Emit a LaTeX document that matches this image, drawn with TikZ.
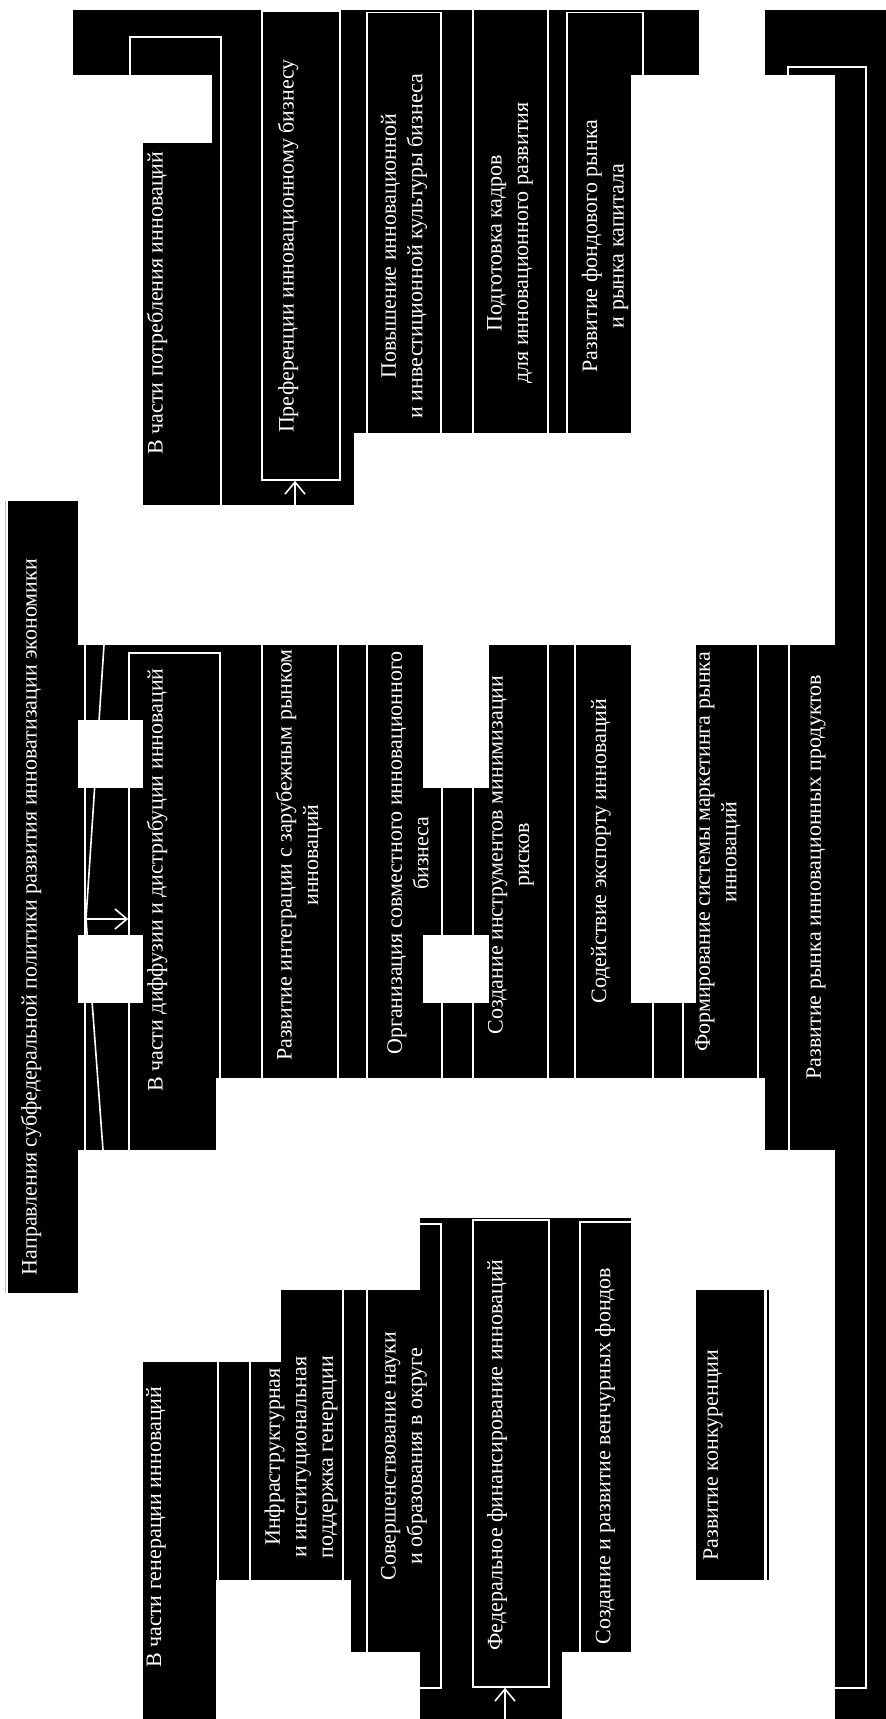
\documentclass[tikz,border=0pt]{standalone}
\usepackage{fontspec}
\setmainfont{Liberation Serif}
\usetikzlibrary{arrows.meta}
\tikzset{
  wline/.style={white, line width=1.6pt},
  outl/.style={draw=white, line width=1.6pt, inner sep=0pt},
  boxtxt/.style={text=white, rotate=90, align=center, inner sep=0pt,
    font=\fontsize{22}{26.5}\selectfont},
  barb/.style={-{Straight Barb[length=12pt,width=20pt]}, white, line width=1.6pt}
}

\begin{document}
\begin{tikzpicture}[x=1pt, y=-1pt]
\useasboundingbox (0,0) rectangle (886,1719);
\fill[white] (0,0) rectangle (886,1719);

% Black panels
\foreach \xa/\ya/\xb/\yb in {73/10/699/75, 212/75/354/143, 143/143/354/505,
    354/75/631/433, 765/10/886/75, 835/75/886/1719,
    78/645/216/1150, 216/645/423/1078, 423/788/489/935, 423/1003/489/1078,
    489/645/631/1078, 631/1003/696/1078, 696/645/864/1078, 765/1078/864/1150,
    8/501/78/1293, 143/1362/216/1719, 216/1362/281/1580, 281/1290/420/1580,
    351/1580/420/1652, 420/1218/631/1652, 420/1652/562/1719, 696/1290/764/1580} {
    \fill (\xa,\ya) rectangle (\xb,\yb);
}
\fill[white] (78,720) rectangle (143,788);
\fill[white] (78,935) rectangle (143,1003);

% Frames, top row
\draw[wline] (130,143) -- (130,37) -- (221,37) -- (221,505);
\node[outl, minimum width=78pt, minimum height=469pt] (pref) at (301,245.5) {};
\draw[wline] (367,433) -- (367,12.5) -- (441,12.5) -- (441,433);
\foreach \x in {473,548} \draw[wline] (\x,10) -- (\x,433);
\draw[wline] (567,433) -- (567,12.5) -- (643,12.5) -- (643,75);
\draw[wline] (788,75) -- (788,67) -- (866,67) -- (866,1688) -- (835,1688);

% Frames, middle row
\draw[wline] (85,645) -- (85,1150);
\coordinate (fork) at (86,919);
\draw[wline] (104,645) -- (fork) -- (103,1150);
\node[outl, minimum width=91pt, minimum height=532pt] (diff) at (174.5,919) {};
\foreach \x in {262,338,367,442,473,548,575,653,683,758}
    \draw[wline] (\x,645) -- (\x,1078);
\draw[wline] (789,645) -- (789,1150);

% Frames, bottom row
\draw[gray!50, line width=1pt] (5,501) -- (5,1293);
\foreach \x in {218,250} \draw[wline] (\x,1362) -- (\x,1580);
\draw[wline] (343,1290) -- (343,1580);
\draw[wline] (367,1652) -- (367,1224) -- (441,1224) -- (441,1688) -- (367,1688);
\node[outl, minimum width=76pt, minimum height=467pt] (fed) at (511,1453.5) {};
\draw[wline] (580,1690) -- (580,1222) -- (660,1222);
\draw[line width=1.6pt] (768,1290) -- (768,1580);

% Arrows
\coordinate (prefin) at (295,505);
\draw[barb] (prefin) -- (prefin |- pref.south);
\draw[barb] (fork) -- (fork -| diff.west);
\coordinate (fedin) at (505,1719);
\draw[barb] (fedin) -- (fedin |- fed.south);

% Labels
\node[boxtxt] (title) at (31,917) {Направления субфедеральной политики развития инноватизации экономики};
\node[boxtxt] (cons) at (157,303) {В части потребления инноваций};
\node[boxtxt] (preft) at (288,246) {Преференции инновационному бизнесу};
\node[boxtxt] (cult) at (404,246) {Повышение инновационной\\и инвестиционной культуры бизнеса};
\node[boxtxt] (staff) at (510,243) {Подготовка кадров\\для инновационного развития};
\node[boxtxt] (stock) at (605,246) {Развитие фондового рынка\\и рынка капитала};
\node[boxtxt] (difft) at (157,880) {В части диффузии и дистрибуции инноваций};
\node[boxtxt] (integr) at (299,855) {Развитие интеграции с зарубежным рынком\\инноваций};
\node[boxtxt] (joint) at (408,853) {Организация совместного инновационного\\бизнеса};
\node[boxtxt] (risk) at (511,855) {Создание инструментов минимизации\\рисков};
\node[boxtxt] (export) at (601,851) {Содействие экспорту инноваций};
\node[boxtxt] (mark) at (718,852) {Формирование системы маркетинга рынка\\инноваций};
\node[boxtxt] (prod) at (816,877) {Развитие рынка инновационных продуктов};
\node[boxtxt] (gen) at (156,1527) {В части генерации инноваций};
\node[boxtxt] (infra) at (301,1457) {Инфраструктурная\\и институциональная\\поддержка генерации};
\node[boxtxt] (sci) at (404,1456) {Совершенствование науки\\и образования в округе};
\node[boxtxt] (fedt) at (497,1455) {Федеральное финансирование инноваций};
\node[boxtxt] (vent) at (605,1456) {Создание и развитие венчурных фондов};
\node[boxtxt] (comp) at (713,1455) {Развитие конкуренции};
\end{tikzpicture}
\end{document}
